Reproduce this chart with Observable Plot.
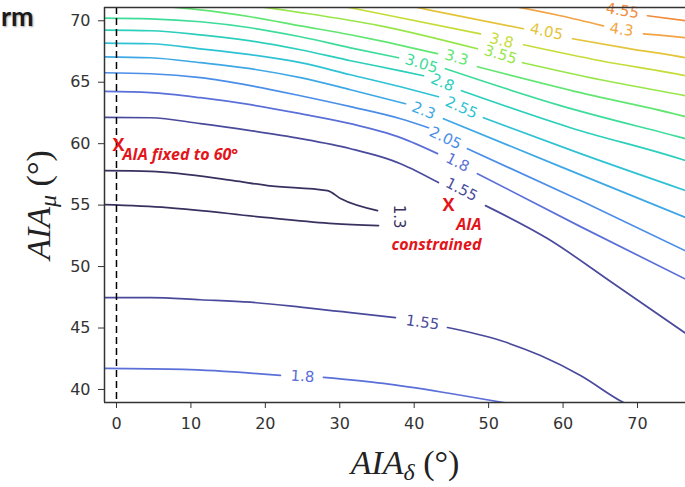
<!DOCTYPE html>
<html><head><meta charset="utf-8">
<script src="https://cdn.jsdelivr.net/npm/d3@7"></script>
<script src="https://cdn.jsdelivr.net/npm/@observablehq/plot@0.6"></script>
<style>
html,body{margin:0;padding:0;background:#fff;overflow:hidden}
#chart{position:relative;width:685px;height:487px}
#corner{position:absolute;left:1px;top:0px;font:bold 27px/1.2 Lato,"Open Sans",sans-serif;color:#1b1b1b;text-shadow:1px 1px 2px rgba(0,0,0,.35)}
</style></head><body><div id="chart"><div id="corner">rm</div></div>
<script>
// ---- data ----
const levels = [1.3, 1.55, 1.8, 2.05, 2.3, 2.55, 2.8, 3.05, 3.3, 3.55, 3.8, 4.05, 4.3, 4.55];
const levelColors = ["#3a3060","#4a4a9c","#5b6fd8","#4a8ee8","#3ea8e6","#2fc2d4","#2ccfbc","#3edc9a","#62e672","#98e64a","#c6dc38","#e4c43a","#f2a444","#f08c3c"];
const xTicks = [0, 10, 20, 30, 40, 50, 60, 70];
const yTicks = [40, 45, 50, 55, 60, 65, 70];
const xDomain = [-1.61, 76.45];
const yDomain = [38.94, 71.08];

// contour paths [AIA_delta, AIA_mu]; each level split into segments at label gaps
const contour_1_30 = [
  [[-1.8,57.80],[4.57,57.75],[15.72,56.99],[20.29,56.59],[28.35,56.18],[30.10,55.53],[35.07,54.55]],
  [[-1.8,55.04],[6.85,54.80],[20.29,53.98],[29.16,53.50],[35.2,53.33]]
];
const contour_1_55 = [
  [[-1.8,62.14],[4.57,62.11],[11.29,61.63],[18.0,61.06],[24.72,60.41],[31.44,59.59],[38.16,58.37],[43.26,56.83]],
  [[49.58,54.96],[57.91,52.28],[66.77,48.62],[78.46,43.74]],
  [[-1.8,47.48],[4.57,47.48],[11.29,47.3],[18.0,47.1],[24.72,46.7],[29.16,46.4],[31.44,46.26],[37.48,45.85]],
  [[44.47,45.04],[51.59,43.98],[56.97,42.76],[62.34,41.14],[68.12,38.94],[70.4,38.3]]
];
const contour_1_80 = [
  [[-1.8,64.25],[4.57,64.15],[11.29,63.74],[18.0,63.17],[24.72,62.44],[31.44,61.63],[38.16,60.49],[43.13,59.19]],
  [[48.5,57.56],[62.34,53.25],[78.46,48.37]],
  [[-1.8,41.71],[9.0,41.63],[22.03,41.14]],
  [[27.81,40.98],[35.87,40.49],[44.87,39.67],[52.0,38.94],[54.28,38.7]]
];
const contour_2_05 = [
  [[-1.8,65.77],[4.57,65.69],[11.29,65.37],[18.0,64.72],[24.72,63.90],[31.44,63.01],[38.16,62.03],[41.92,61.30]],
  [[47.16,59.59],[62.34,55.37],[78.46,50.7]]
];
const contour_2_30 = [
  [[-1.8,67.07],[4.57,66.99],[11.29,66.59],[18.0,66.10],[24.72,65.37],[31.44,64.39],[38.83,63.25]],
  [[43.93,62.03],[59.65,58.13],[78.46,53.5]]
];
const contour_2_55 = [
  [[-1.8,68.19],[4.57,68.13],[11.29,67.72],[18.0,67.24],[24.72,66.59],[31.44,65.61],[38.16,64.63],[43.26,63.82]],
  [[49.31,62.11],[62.34,59.19],[78.46,55.77]]
];
const contour_2_80 = [
  [[-1.8,69.24],[4.57,69.19],[11.29,68.86],[18.0,68.37],[24.72,67.64],[31.44,66.75],[38.16,65.93],[41.25,65.53]],
  [[46.35,64.31],[61.0,61.30],[76.45,58.62],[78.46,58.21]]
];
const contour_3_05 = [
  [[-1.8,70.22],[4.57,70.16],[11.29,69.92],[18.0,69.43],[24.72,68.70],[31.44,67.80],[37.89,66.99]],
  [[44.2,66.1],[59.65,63.1],[76.45,60.41],[78.46,60.08]]
];
const contour_3_30 = [
  [[-1.8,71.30],[4.57,71.22],[11.29,70.89],[18.0,70.33],[24.72,69.59],[31.44,68.86],[35.47,68.37],[43.13,67.32]],
  [[48.5,66.26],[62.34,64.15],[76.45,62.20],[78.46,61.87]]
];
const contour_3_55 = [
  [[15.32,71.46],[24.72,70.67],[35.47,69.59],[48.5,67.72]],
  [[54.55,66.59],[65.03,65.20],[76.45,63.90],[78.46,63.66]]
];
const contour_3_80 = [
  [[28.75,71.38],[35.47,70.57],[48.9,68.94]],
  [[54.68,68.05],[65.03,66.75],[76.45,65.53],[78.46,65.28]]
];
const contour_4_05 = [
  [[38.16,71.38],[42.59,70.81],[54.68,69.35]],
  [[61.27,68.54],[69.06,67.72],[76.45,66.99],[78.46,66.75]]
];
const contour_4_30 = [
  [[51.59,71.38],[59.65,70.41],[65.43,69.59]],
  [[70.8,68.94],[76.45,68.62],[78.46,68.46]]
];
const contour_4_55 = [
  [[61.67,71.63],[64.62,71.14]],
  [[71.34,70.41],[76.45,70.0],[78.46,69.84]]
];

// inline contour label placements: [level, AIA_delta, AIA_mu, angle]
const contourLabels = [
  [1.3, 37.89, 54.07, 90],
  [1.55, 46.35, 56.26, 27], [1.55, 41.11, 45.45, 8],
  [1.8, 45.81, 58.46, 27], [1.8, 24.99, 41.06, 4],
  [2.05, 44.2, 60.45, 26], [2.3, 41.25, 62.68, 22], [2.55, 46.35, 62.93, 24],
  [2.8, 43.8, 64.96, 23], [3.05, 40.98, 66.50, 17], [3.3, 45.68, 66.99, 16],
  [3.55, 51.59, 67.24, 17], [3.8, 51.73, 68.37, 14], [4.05, 57.77, 69.11, 12],
  [4.3, 67.85, 69.27, 8], [4.55, 67.98, 70.81, 9]
];

// annotated points
const markerX = [0.27, 44.6];
const markerY = [59.84, 54.96];
const markerText = ["AIA fixed to 60°", "AIA\nconstrained"];

// ---- build tables ----
const contourSets = [contour_1_30, contour_1_55, contour_1_80, contour_2_05, contour_2_30, contour_2_55,
  contour_2_80, contour_3_05, contour_3_30, contour_3_55, contour_3_80, contour_4_05, contour_4_30, contour_4_55];
const rows = [];
contourSets.forEach((segs, li) => segs.forEach((seg, si) => seg.forEach(([x, y]) =>
  rows.push({level: levels[li], seg: li + "-" + si, x, y}))));
const labelRows = contourLabels.map(([level, x, y, rot]) => ({level, x, y, rot}));
const markers = markerX.map((x, i) => ({x, y: markerY[i], note: markerText[i]}));

const red = "#e3151b";
const plot = Plot.plot({
  width: 685, height: 487,
  marginLeft: 104, marginRight: 0, marginTop: 7, marginBottom: 85,
  style: {fontFamily: "DejaVu Sans", fontSize: "16px", color: "#333", background: "white"},
  x: {domain: xDomain, ticks: xTicks, tickSize: 6, tickPadding: 9, label: null, tickFormat: d3.format("d")},
  y: {domain: yDomain, ticks: yTicks, tickSize: 6, tickPadding: 8, label: null, tickFormat: d3.format("d")},
  color: {type: "ordinal", domain: levels, range: levelColors},
  marks: [
    Plot.line(rows, {x: "x", y: "y", z: "seg", stroke: "level", strokeWidth: 1.7, curve: "monotone-x", clip: true}),
    Plot.text(labelRows, {x: "x", y: "y", text: d => String(d.level), rotate: "rot", fill: "level",
      fontSize: 15, fontFamily: "DejaVu Sans"}),
    Plot.ruleX([0], {stroke: "black", strokeWidth: 1.5, strokeDasharray: "7,4"}),
    Plot.ruleY([yDomain[0], yDomain[1]], {stroke: "#333", strokeWidth: 1.5}),
    Plot.ruleX([xDomain[0]], {stroke: "#333", strokeWidth: 1.5}),
    Plot.text(markers, {x: "x", y: "y", text: () => "X", fill: red, fontWeight: "bold", fontSize: 18, fontFamily: "Open Sans"}),
    Plot.text(markers.slice(0, 1), {x: "x", y: "y", text: "note", fill: red, fontWeight: "bold", fontStyle: "italic",
      fontSize: 16, fontFamily: "Open Sans", textAnchor: "start", dx: 4, dy: 9}),
    Plot.text(markers.slice(1), {x: "x", y: "y", text: "note", fill: red, fontWeight: "bold", fontStyle: "italic",
      fontSize: 16, fontFamily: "Open Sans", textAnchor: "end", lineAnchor: "top", dx: 33, dy: 10, lineHeight: 1.25})
  ]
});
document.getElementById("chart").prepend(plot);

// axis titles with sub-scripts
const svg = d3.select(plot);
function mathLabel(g, sub) {
  const t = g.append("text").attr("text-anchor", "middle").attr("fill", "#222")
    .style("font-family", "'Liberation Serif', 'DejaVu Serif', serif").style("font-size", "34px");
  t.append("tspan").style("font-style", "italic").text("AIA");
  t.append("tspan").style("font-style", "italic").style("font-size", "24px").attr("dy", 6).text(sub);
  t.append("tspan").attr("dy", -6).text(" (°)");
  return t;
}
mathLabel(svg.append("g").attr("transform", "translate(405,474)"), "δ");
mathLabel(svg.append("g").attr("transform", "translate(50,205) rotate(-90)"), "μ");
</script></body></html>
